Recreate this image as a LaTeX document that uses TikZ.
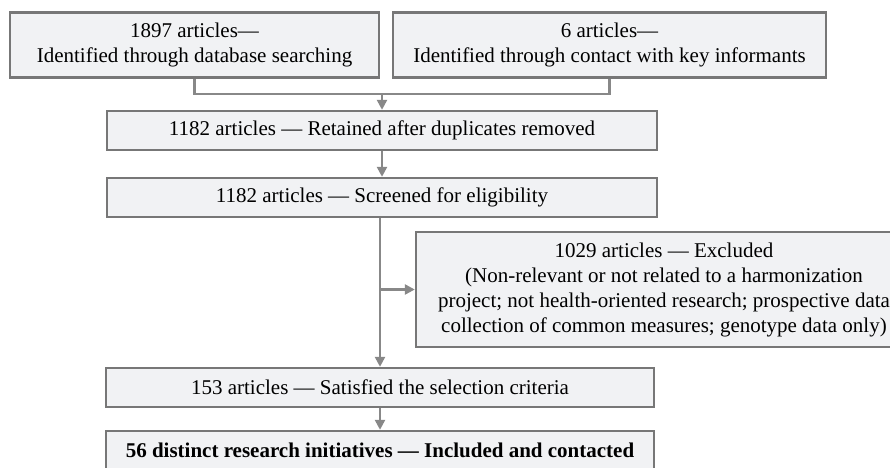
\documentclass[tikz,border=0pt]{standalone}
\usepackage{fontspec}
\setmainfont{Liberation Serif}
\usepackage{xcolor}
\usepackage{tikz}
\usetikzlibrary{arrows.meta,positioning,calc}
\definecolor{boxfill}{HTML}{F1F2F4}
\definecolor{boxline}{HTML}{777777}
\definecolor{flowgray}{HTML}{888888}

\begin{document}
\begin{tikzpicture}[x=0.5pt,y=-0.5pt,
		stage/.style={draw=boxline,fill=boxfill,line width=1.2pt,inner sep=0pt,align=center,
			font=\fontsize{10.5}{12.5}\selectfont,minimum height=19.5pt},
		source/.style={stage,minimum height=32.5pt},
		e/.style={-{Triangle[length=5pt,width=5pt]},draw=flowgray,line width=1.2pt},
		l/.style={draw=flowgray,line width=1.2pt}
		]
		\useasboundingbox (0,0) rectangle (890,467);
		\node[source,minimum width=184.5pt] (db) at (194.5,45) {1897 articles---\\Identified through database searching};
		\node[source,minimum width=216.5pt] (ki) at (609.5,45) {6 articles---\\Identified through contact with key informants};
		\node[stage,minimum width=275pt] (dup) at (382,130.5) {1182 articles --- Retained after duplicates removed};
		\node[stage,minimum width=275pt] (scr) at (382,197.5) {1182 articles --- Screened for eligibility};
		\node[stage,minimum width=248pt,minimum height=57.5pt] (exc) at (664,289.5) {1029 articles --- Excluded\\(Non-relevant or not related to a harmonization\\project; not health-oriented research; prospective data\\collection of common measures; genotype data only)};
		\node[stage,minimum width=274pt] (sel) at (380,387.5) {153 articles --- Satisfied the selection criteria};
		\node[stage,minimum width=274pt] (inc) at (380,450.5) {\textbf{56 distinct research initiatives --- Included and contacted}};
		\coordinate (merge) at (382,94);
		\draw[l] (db.south) |- (merge) -| (ki.south);
		\draw[e] (merge) -- (dup.north);
		\draw[e] (dup) -- (scr);
		\draw[e] (scr.south -| sel.north) -- (sel.north);
		\draw[e] (sel.north |- exc.west) -- (exc.west);
		\draw[e] (sel) -- (inc);
	\end{tikzpicture}
\end{document}
